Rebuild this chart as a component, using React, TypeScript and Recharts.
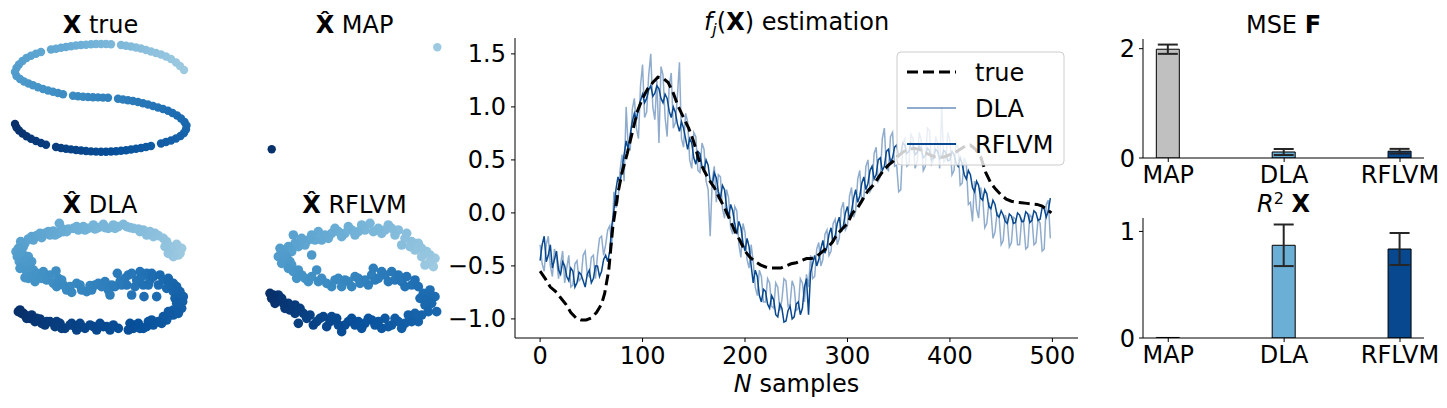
import React from "react";
import {
  LineChart,
  Line,
  XAxis,
  YAxis,
  ScatterChart,
  Scatter,
  BarChart,
  Bar,
  Cell,
  ErrorBar,
} from "recharts";

const FONT = "DejaVu Sans";
const FS = 24;

// latent positions, ordered along the curve (first = light, last = dark)
const trueLatent = [
  [18.4, 9.0], [18.0, 9.4], [17.6, 9.75], [17.1, 10.1], [16.6, 10.35], [16.1, 10.55], [15.6, 10.7], [15.1, 10.85],
  [14.6, 11.0], [14.1, 11.15], [13.6, 11.25], [13.1, 11.35], [12.6, 11.42], [12.1, 11.5], [11.1, 11.57],
  [10.6, 11.6], [10.1, 11.6], [9.6, 11.6], [9.1, 11.57], [8.6, 11.53], [8.1, 11.5], [7.6, 11.45], [7.1, 11.38],
  [6.6, 11.3], [6.1, 11.22], [5.6, 11.13], [5.1, 11.05], [4.1, 10.8], [3.6, 10.62], [3.1, 10.42],
  [2.65, 10.2], [2.25, 9.9], [1.9, 9.55], [1.65, 9.2], [1.5, 8.8], [1.65, 8.4], [2.0, 8.1], [2.4, 7.85],
  [2.85, 7.65], [3.3, 7.48], [3.8, 7.28], [4.3, 7.1], [4.8, 6.95], [5.3, 6.82], [5.8, 6.7], [6.3, 6.58],
  [7.3, 6.42], [7.8, 6.37], [8.3, 6.33], [8.8, 6.3], [9.3, 6.28], [9.8, 6.26], [10.3, 6.24], [10.8, 6.22],
  [11.8, 6.12], [12.3, 6.05], [12.8, 5.98], [13.3, 5.9], [13.8, 5.8], [14.3, 5.68], [14.8, 5.55], [15.3, 5.4],
  [15.8, 5.25], [16.3, 5.1], [16.8, 4.92], [17.25, 4.7], [17.7, 4.45], [18.1, 4.15], [18.45, 3.8], [18.65, 3.45],
  [18.6, 3.05], [18.4, 2.7], [18.05, 2.4], [17.6, 2.15], [17.1, 1.95], [16.6, 1.8], [16.1, 1.65], [15.1, 1.4],
  [14.6, 1.3], [14.1, 1.2], [13.6, 1.12], [13.1, 1.05], [12.6, 0.98], [12.1, 0.93], [11.6, 0.88], [11.1, 0.85],
  [10.6, 0.83], [10.1, 0.83], [9.6, 0.84], [9.1, 0.86], [8.6, 0.9], [8.1, 0.95], [7.6, 1.0], [7.1, 1.06],
  [6.6, 1.12], [6.1, 1.2], [5.6, 1.3], [4.6, 1.52], [4.1, 1.7], [3.6, 1.9], [3.1, 2.12], [2.65, 2.38],
  [2.25, 2.65], [1.9, 2.95], [1.65, 3.25], [1.5, 3.6],
];

const mapLatent = [
  [18.23, 11.27],
  [1.67, 1.07],
];

const dlaLatent = [
  [5.45, 2.75], [5.4, 2.6], [5.35, 2.55], [5.25, 2.7], [5.3, 2.87], [5.2, 2.5], [5.15, 2.75], [5.1, 2.8],
  [5.05, 2.6], [5.0, 2.95], [4.95, 2.8], [4.9, 3.05], [4.75, 3.13], [4.6, 3.1], [4.65, 3.2], [4.5, 3.25],
  [4.4, 3.15], [4.3, 3.3], [4.2, 3.25], [4.15, 3.33], [4.0, 3.35], [3.9, 3.37], [3.8, 3.4], [3.7, 3.47],
  [3.55, 3.4], [3.45, 3.35], [3.4, 3.45], [3.25, 3.35], [3.15, 3.37], [3.1, 3.47], [2.95, 3.37], [2.85, 3.33],
  [2.8, 3.45], [2.65, 3.35], [2.55, 3.3], [2.5, 3.4], [2.35, 3.3], [2.3, 3.4], [2.2, 3.35], [2.05, 3.33],
  [2.0, 3.25], [1.9, 3.25], [1.85, 3.35], [1.78, 3.5], [1.75, 3.2], [1.65, 3.15], [1.6, 3.27], [1.5, 3.15],
  [1.45, 3.25], [1.35, 3.2], [1.25, 3.07], [1.2, 3.2], [1.1, 3.13], [1.0, 3.0], [0.95, 3.1], [0.85, 3.03],
  [0.75, 2.9], [0.7, 2.8], [0.62, 2.95], [0.55, 2.75], [0.48, 2.65], [0.65, 2.7], [0.6, 2.55], [0.52, 2.5],
  [0.7, 2.55], [0.85, 2.5], [0.58, 2.35], [0.78, 2.4], [0.95, 2.35], [0.68, 2.2], [0.9, 2.25], [0.6, 2.15],
  [0.8, 2.05], [1.0, 2.1], [0.75, 1.87], [0.85, 1.85], [0.95, 1.9], [1.1, 2.0], [1.05, 1.75], [1.25, 1.85],
  [1.3, 2.05], [1.4, 1.8], [1.5, 1.95], [1.6, 1.7], [1.68, 2.07], [1.75, 1.85], [1.85, 1.8], [1.7, 1.6],
  [1.9, 1.65], [2.0, 1.5], [2.1, 1.6], [2.15, 1.43], [2.3, 1.7], [2.4, 1.65], [2.45, 1.5], [2.6, 1.45],
  [2.7, 1.63], [2.75, 1.5], [2.85, 1.65], [2.95, 1.7], [3.05, 1.6], [3.15, 1.75], [3.25, 1.5], [3.3, 1.35],
  [3.35, 1.65], [3.45, 1.6], [3.6, 1.75], [3.65, 1.65], [3.52, 2.0], [3.75, 1.85], [3.85, 1.95], [3.8, 1.65],
  [3.95, 2.0], [3.95, 1.35], [4.05, 1.6], [4.1, 1.8], [4.2, 2.05], [4.25, 1.9], [4.3, 1.65], [4.4, 2.0],
  [4.45, 1.65], [4.5, 1.8], [4.55, 2.0], [4.32, 1.3], [4.7, 1.3], [4.6, 1.9], [4.75, 1.65], [4.8, 1.95],
  [4.9, 1.8], [5.0, 1.55], [5.05, 1.85], [5.1, 1.7], [5.2, 1.7], [5.2, 1.45], [5.3, 1.6], [5.4, 1.45],
  [5.35, 1.3], [5.5, 1.3], [5.25, 1.25], [5.48, 1.15], [5.3, 1.1], [5.45, 0.95], [5.2, 0.9], [5.35, 0.8],
  [5.2, 0.75], [5.05, 0.85], [5.1, 0.75], [5.0, 0.6], [4.9, 0.7], [4.85, 0.5], [4.75, 0.55], [4.55, 0.6],
  [4.6, 0.45], [4.45, 0.55], [4.4, 0.4], [4.3, 0.35], [4.2, 0.35], [4.15, 0.5], [4.05, 0.45], [4.0, 0.35],
  [3.9, 0.5], [3.85, 0.3], [3.55, 0.35], [3.4, 0.45], [3.3, 0.3], [3.2, 0.4], [3.1, 0.4], [3.0, 0.5],
  [2.9, 0.3], [2.8, 0.4], [2.7, 0.45], [2.55, 0.35], [2.45, 0.4], [2.4, 0.5], [2.3, 0.3], [2.25, 0.4],
  [2.15, 0.5], [2.1, 0.45], [1.95, 0.35], [1.85, 0.35], [1.8, 0.5], [1.7, 0.55], [1.65, 0.4], [1.5, 0.55],
  [1.4, 0.55], [1.35, 0.45], [1.25, 0.5], [1.2, 0.63], [1.1, 0.65], [1.05, 0.55], [0.95, 0.75], [0.9, 0.65],
  [0.8, 0.65], [0.75, 0.75], [0.7, 0.8], [0.65, 0.8], [0.55, 0.85], [0.6, 0.9],
];

const rflvmLatent = [
  [5.35, 2.2], [5.25, 2.35], [5.4, 2.45], [5.1, 2.25], [5.25, 2.55], [5.0, 2.5], [5.15, 2.65], [5.0, 2.75],
  [4.8, 2.7], [4.9, 2.9], [4.65, 2.8], [4.7, 2.95], [4.5, 3.05], [4.55, 3.2], [4.4, 2.85], [4.3, 3.3],
  [4.2, 3.15], [4.1, 3.35], [4.0, 3.45], [3.9, 3.3], [3.8, 3.2], [3.7, 3.35], [3.55, 3.25], [3.45, 3.5],
  [3.3, 3.3], [3.2, 3.45], [3.1, 3.25], [3.0, 3.15], [2.9, 3.3], [2.8, 3.4], [2.7, 3.2], [2.6, 3.1],
  [2.5, 3.25], [2.4, 3.35], [2.3, 3.2], [2.2, 3.05], [2.1, 3.15], [2.0, 3.0], [1.9, 3.25], [1.8, 3.0],
  [1.7, 3.15], [1.6, 3.0], [1.5, 2.85], [1.4, 3.05], [1.3, 2.8], [1.2, 2.9], [1.15, 3.15], [1.1, 2.65],
  [1.0, 2.8], [0.9, 2.55], [0.85, 2.7], [0.75, 2.75], [0.7, 2.5], [0.95, 2.5], [0.8, 2.3], [1.05, 2.35],
  [1.7, 2.55], [1.1, 2.25], [1.0, 2.15], [1.15, 2.05], [1.3, 2.1], [1.25, 1.85], [1.4, 1.95], [1.5, 1.85],
  [1.6, 1.75], [1.7, 1.9], [1.85, 2.1], [1.9, 1.75], [2.0, 1.85], [2.15, 1.7], [2.3, 1.6], [2.4, 1.8],
  [2.5, 1.85], [2.6, 1.6], [2.7, 1.8], [2.8, 1.75], [2.9, 1.6], [3.0, 1.9], [3.1, 1.85], [3.15, 1.7],
  [3.3, 1.8], [3.4, 1.65], [3.5, 1.95], [3.55, 2.15], [3.6, 1.8], [3.7, 1.85], [3.8, 2.05], [3.9, 1.95],
  [4.0, 1.75], [4.1, 2.05], [4.2, 1.8], [4.3, 1.95], [4.4, 1.75], [4.55, 1.9], [4.5, 1.6], [4.7, 1.65],
  [4.8, 1.8], [4.9, 1.6], [5.25, 1.5], [5.05, 1.4], [5.2, 1.35], [5.4, 1.3], [4.95, 1.25], [5.15, 1.2],
  [5.3, 1.1], [5.1, 1.05], [5.45, 0.85], [5.2, 0.85], [5.0, 0.75], [4.8, 0.8], [4.9, 0.55], [4.6, 0.75],
  [4.7, 0.55], [4.5, 0.5], [4.4, 0.35], [4.3, 0.55], [4.2, 0.65], [4.1, 0.45], [4.0, 0.4], [3.9, 0.65],
  [3.8, 0.35], [3.7, 0.55], [3.6, 0.45], [3.5, 0.6], [3.4, 0.65], [3.3, 0.5], [3.2, 0.35], [3.1, 0.55],
  [3.0, 0.45], [2.9, 0.65], [2.8, 0.55], [2.7, 0.45], [2.6, 0.25], [2.5, 0.45], [2.45, 0.65], [2.3, 0.7],
  [2.25, 0.55], [2.15, 0.4], [2.05, 0.7], [1.95, 0.65], [1.85, 0.55], [1.75, 0.45], [1.65, 0.75], [1.55, 0.65],
  [1.45, 0.8], [1.3, 0.5], [1.35, 0.95], [1.2, 0.8], [1.2, 1.05], [1.05, 0.9], [1.0, 1.1], [0.9, 0.95],
  [0.85, 1.1], [0.8, 1.25], [0.7, 1.35], [0.65, 1.2], [0.6, 1.1], [0.55, 1.35], [0.5, 1.25], [0.45, 1.4],
];

// f_j(X) estimation: every second sample, 0, 2, 4, ... 498
const dlaValues = [
  -0.3, -0.48, -0.55, -0.3, -0.22, -0.5, -0.6, -0.34, -0.42, -0.62,
  -0.48, -0.36, -0.66, -0.52, -0.4, -0.7, -0.68, -0.48, -0.45, -0.64,
  -0.62, -0.4, -0.36, -0.58, -0.6, -0.42, -0.4, -0.62, -0.4, -0.24,
  -0.22, -0.4, -0.3, -0.16, -0.12, -0.3, 0.2, 0.05, 0.1, 0.4,
  0.55, 0.3, 1.0, 0.62, 0.6, 0.98, 1.08, 0.8, 0.7, 1.2,
  1.4, 0.9, 0.95, 1.3, 1.5, 1.0, 0.88, 1.25, 0.66, 1.38,
  1.3, 0.9, 0.72, 1.2, 1.32, 0.8, 0.85, 1.1, 1.42, 0.7,
  0.62, 0.94, 0.86, 0.5, 0.42, 0.76, 0.72, 0.4, 0.38, 0.66,
  0.6, 0.3, 0.22, -0.22, 0.3, 0.44, 0.1, 0.36, 0.34, 0.04,
  -0.05, 0.22, 0.14, -0.14, -0.2, 0.06, 0.02, -0.3, -0.42, -0.1,
  -0.18, -0.44, -0.52, -0.3, -0.46, -0.7, -0.78, -0.54, -0.6, -0.84,
  -0.84, -0.62, -0.66, -0.88, -0.9, -0.66, -0.7, -0.92, -0.82, -0.62,
  -0.64, -0.88, -0.86, -0.64, -0.7, -0.92, -0.9, -0.62, -0.66, -0.84,
  -0.58, -0.7, -0.4, -0.62, -0.6, -0.34, -0.28, -0.5, -0.44, -0.2,
  -0.16, -0.4, -0.36, -0.1, -0.06, -0.3, -0.24, 0.04, 0.1, -0.16,
  -0.12, 0.16, 0.24, -0.04, 0.02, 0.32, 0.4, 0.1, 0.14, 0.44,
  0.5, 0.2, 0.24, 0.56, 0.62, 0.3, 0.34, 0.7, 0.8, 0.42,
  0.4, 0.72, 0.76, 0.44, 0.45, 0.2, 0.22, 0.66, 0.7, 0.44,
  0.46, 0.74, 0.7, 0.42, 0.48, 0.76, 0.68, 0.4, 0.44, 0.8,
  0.78, 0.46, 0.5, 0.72, 0.66, 0.42, 1.0, 0.48, 0.5, 0.76,
  0.68, 0.36, 0.4, 0.66, 0.62, 0.26, 0.28, 0.52, 0.46, 0.08,
  0.1, -0.08, 0.3, 0.04, -0.05, 0.24, 0.14, -0.14, -0.1, 0.1,
  0.02, -0.24, -0.18, 0.0, -0.04, -0.3, -0.26, -0.02, -0.08, -0.32,
  -0.28, -0.04, -0.06, -0.3, -0.3, -0.06, -0.1, -0.34, -0.32, -0.02,
  -0.04, -0.3, -0.28, -0.06, -0.1, -0.36, -0.34, 0.08, 0.12, -0.24,
];

const rflvmValues = [
  -0.45, -0.3, -0.22, -0.46, -0.4, -0.3, -0.52, -0.44, -0.36, -0.54,
  -0.58, -0.46, -0.5, -0.6, -0.64, -0.52, -0.55, -0.7, -0.66, -0.56,
  -0.58, -0.64, -0.7, -0.58, -0.54, -0.66, -0.62, -0.5, -0.5, -0.6,
  -0.55, -0.44, -0.4, -0.46, -0.36, -0.12, 0.02, 0.22, 0.34, 0.28,
  0.42, 0.55, 0.68, 0.6, 0.74, 0.86, 0.94, 0.88, 0.99, 1.06,
  1.12, 1.04, 1.08, 1.16, 1.2, 1.1, 1.13, 1.2, 1.17, 1.08,
  1.04, 1.12, 1.08, 0.96, 0.9, 1.0, 0.95, 0.84, 0.77, 0.86,
  0.8, 0.7, 0.6, 0.7, 0.66, 0.52, 0.46, 0.58, 0.56, 0.44,
  0.4, 0.5, 0.45, 0.3, 0.26, 0.38, 0.33, 0.2, 0.14, 0.26,
  0.22, 0.06, -0.04, 0.08, 0.02, -0.1, -0.2, -0.08, -0.14, -0.28,
  -0.36, -0.24, -0.32, -0.5, -0.66, -0.54, -0.6, -0.78, -0.84, -0.72,
  -0.74, -0.86, -0.9, -0.78, -0.82, -0.96, -0.98, -0.86, -0.9, -1.03,
  -1.02, -0.92, -0.88, -1.0, -0.98, -0.86, -0.84, -0.96, -0.9, -0.7,
  -0.62, -0.96, -0.56, -0.48, -0.4, -0.5, -0.44, -0.34, -0.26, -0.38,
  -0.32, -0.2, -0.14, -0.28, -0.22, -0.1, -0.04, -0.18, -0.12, 0.0,
  0.06, -0.06, 0.02, 0.14, 0.22, 0.1, 0.16, 0.28, 0.34, 0.22,
  0.28, 0.4, 0.44, 0.32, 0.36, 0.5, 0.52, 0.4, 0.44, 0.58,
  0.6, 0.48, 0.52, 0.62, 0.64, 0.54, 0.56, 0.66, 0.64, 0.56,
  0.58, 0.66, 0.64, 0.55, 0.57, 0.63, 0.61, 0.52, 0.54, 0.61,
  0.59, 0.5, 0.52, 0.6, 0.58, 0.51, 0.53, 0.59, 0.57, 0.49,
  0.5, 0.58, 0.55, 0.47, 0.44, 0.52, 0.46, 0.36, 0.32, 0.4,
  0.36, 0.24, 0.2, 0.3, 0.26, 0.14, 0.12, 0.22, 0.18, 0.06,
  0.04, 0.12, 0.08, -0.02, -0.04, 0.02, -0.02, -0.08, -0.1, -0.01,
  -0.03, -0.1, -0.09, 0.0, -0.02, -0.08, -0.08, 0.01, -0.01, -0.09,
  -0.07, 0.02, 0.0, -0.07, -0.06, 0.05, 0.04, -0.04, 0.02, 0.14,
];

const trueSamples = [
  0, 5, 10, 15, 20, 25, 30, 35, 40, 45, 50, 55, 60, 63, 67, 71, 76, 80, 85, 90, 95, 100, 105, 110, 115, 120,
  125, 130, 135, 140, 145, 150, 155, 160, 165, 170, 175, 180, 185, 190, 195, 200, 205, 210, 215, 220, 225,
  230, 235, 240, 245, 250, 255, 260, 265, 270, 275, 280, 285, 290, 295, 300, 305, 310, 315, 320, 325, 330,
  335, 340, 345, 350, 355, 360, 365, 370, 375, 380, 385, 390, 395, 400, 405, 410, 415, 420, 425, 430, 435,
  440, 445, 450, 455, 460, 465, 470, 475, 480, 485, 490, 495, 499,
];
const trueValues = [
  -0.55, -0.62, -0.7, -0.74, -0.8, -0.86, -0.94, -0.99, -1.01, -1.01, -0.99, -0.94, -0.86, -0.76, -0.54,
  -0.13, 0.19, 0.38, 0.56, 0.76, 0.96, 1.08, 1.17, 1.23, 1.28, 1.27, 1.23, 1.13, 1.0, 0.9, 0.8, 0.67, 0.5,
  0.4, 0.31, 0.24, 0.14, 0.05, -0.06, -0.17, -0.26, -0.36, -0.42, -0.46, -0.49, -0.51, -0.52, -0.52, -0.52,
  -0.5, -0.48, -0.47, -0.45, -0.43, -0.43, -0.41, -0.37, -0.33, -0.28, -0.2, -0.15, -0.1, 0.0, 0.05, 0.13,
  0.21, 0.26, 0.33, 0.4, 0.45, 0.49, 0.54, 0.58, 0.6, 0.61, 0.6, 0.57, 0.55, 0.53, 0.52, 0.53, 0.55, 0.57,
  0.6, 0.63, 0.64, 0.6, 0.53, 0.38, 0.28, 0.22, 0.17, 0.13, 0.11, 0.1, 0.095, 0.09, 0.085, 0.08, 0.065,
  0.03, 0.0,
];

const methods = ["MAP", "DLA", "RFLVM"];
const mseMean = [1.99, 0.11, 0.125];
const mseErr = [0.085, 0.055, 0.042];
const r2Mean = [0.005, 0.87, 0.835];
const r2Err = [0, 0.195, 0.15];

const BLUES = [
  [158, 202, 225],
  [107, 174, 214],
  [66, 146, 198],
  [33, 113, 181],
  [8, 81, 156],
  [8, 48, 107],
];
function blues(t: number) {
  const s = t * (BLUES.length - 1);
  const k = Math.min(Math.floor(s), BLUES.length - 2);
  const f = s - k;
  const c = BLUES[k].map((a, j) => Math.round(a + (BLUES[k + 1][j] - a) * f));
  return `rgb(${c.join(",")})`;
}

const DARK_BLUE = "#08488e";
const barColors = ["#c0c0c0", "#6baed6", DARK_BLUE];

const tickStyle = { fill: "#000", fontSize: FS, fontFamily: FONT };
const axisStroke = { stroke: "#000", strokeWidth: 1 };

const toSeries = (vals: number[]) => vals.map((v, i) => ({ n: i * 2, v }));
const dlaData = toSeries(dlaValues);
const rflvmData = toSeries(rflvmValues);
const trueData = trueSamples.map((n, i) => ({ n, v: trueValues[i] }));

const fmt1 = (v: number) => v.toFixed(1).replace("-", "\u2212");

function LatentPanel({ points, left, top, xMax, yMax, r }: any) {
  const data = points.map(([x, y]: number[], i: number) => ({
    x,
    y,
    c: blues(i / (points.length - 1)),
  }));
  return (
    <div style={{ position: "absolute", left, top }}>
      <ScatterChart width={200} height={125} margin={{ top: 0, right: 0, bottom: 0, left: 0 }}>
        <XAxis type="number" dataKey="x" domain={[0, xMax]} hide />
        <YAxis type="number" dataKey="y" domain={[0, yMax]} hide />
        <Scatter
          data={data}
          isAnimationActive={false}
          shape={(p: any) => <circle cx={p.cx} cy={p.cy} r={r} fill={p.payload.c} />}
        />
      </ScatterChart>
    </div>
  );
}

function ScoreBars({ top, height, margin, means, errs, yMax, yTicks }: any) {
  const data = methods.map((m, i) => ({ i, m, v: means[i], e: errs[i] }));
  return (
    <div style={{ position: "absolute", left: 1083, top }}>
      <BarChart width={364} height={height} data={data} margin={margin}>
        <XAxis
          type="number"
          dataKey="i"
          domain={[-0.218, 2.207]}
          ticks={[0, 1, 2]}
          tickFormatter={(i: number) => methods[i]}
          tick={tickStyle}
          tickSize={4}
          tickMargin={4}
          height={40}
          axisLine={axisStroke}
          tickLine={axisStroke}
          allowDataOverflow
        />
        <YAxis
          type="number"
          domain={[0, yMax]}
          ticks={yTicks}
          tick={tickStyle}
          tickSize={4}
          tickMargin={4}
          width={60}
          axisLine={axisStroke}
          tickLine={axisStroke}
          allowDataOverflow
        />
        <Bar dataKey="v" barSize={23} stroke="#000" strokeWidth={1} isAnimationActive={false}>
          {data.map((d, k) => (
            <Cell key={d.m} fill={barColors[k]} />
          ))}
          <ErrorBar dataKey="e" width={10} stroke="#262626" strokeWidth={2} direction="y" />
        </Bar>
      </BarChart>
    </div>
  );
}

export default function App() {
  return (
    <div
      style={{
        position: "absolute",
        left: 0,
        top: 0,
        width: 1447,
        height: 408,
        overflow: "hidden",
        background: "#fff",
        fontFamily: FONT,
      }}
    >
      <LatentPanel points={trueLatent} left={0} top={35} xMax={20} yMax={12.5} r={4.2} />
      <LatentPanel points={mapLatent} left={255} top={35} xMax={20} yMax={12.5} r={4.2} />
      <LatentPanel points={dlaLatent} left={0} top={215} xMax={6} yMax={3.75} r={4.8} />
      <LatentPanel points={rflvmLatent} left={255} top={215} xMax={6} yMax={3.75} r={4.8} />

      <div style={{ position: "absolute", left: 440, top: 0 }}>
        <LineChart width={660} height={408} margin={{ top: 38, right: 22, bottom: 25, left: 0 }}>
          <XAxis
            type="number"
            dataKey="n"
            domain={[-24.5, 525]}
            ticks={[0, 100, 200, 300, 400, 500]}
            tick={tickStyle}
            tickSize={4}
            tickMargin={5}
            height={45}
            axisLine={axisStroke}
            tickLine={axisStroke}
            allowDataOverflow
          />
          <YAxis
            type="number"
            domain={[-1.18, 1.65]}
            ticks={[-1, -0.5, 0, 0.5, 1, 1.5]}
            tickFormatter={fmt1}
            tick={tickStyle}
            tickSize={4}
            tickMargin={5}
            width={75}
            axisLine={axisStroke}
            tickLine={axisStroke}
            allowDataOverflow
          />
          <Line
            data={dlaData}
            dataKey="v"
            stroke={DARK_BLUE}
            strokeOpacity={0.45}
            strokeWidth={1.5}
            dot={false}
            isAnimationActive={false}
          />
          <Line
            data={rflvmData}
            dataKey="v"
            stroke={DARK_BLUE}
            strokeWidth={1.5}
            dot={false}
            isAnimationActive={false}
          />
          <Line
            data={trueData}
            dataKey="v"
            stroke="#000"
            strokeWidth={3}
            strokeDasharray="11 5"
            dot={false}
            isAnimationActive={false}
          />
        </LineChart>
      </div>

      <svg width={170} height={116} style={{ position: "absolute", left: 896, top: 51 }}>
        <rect x={1} y={1} width={167} height={113} rx={4} fill="#fff" fillOpacity={0.8} stroke="#cccccc" />
        <line x1={11} x2={60} y1={21} y2={21} stroke="#000" strokeWidth={3} strokeDasharray="11 5" />
        <line x1={11} x2={60} y1={57} y2={57} stroke={DARK_BLUE} strokeOpacity={0.45} strokeWidth={2} />
        <line x1={11} x2={60} y1={93} y2={93} stroke={DARK_BLUE} strokeWidth={2} />
        <g fontFamily={FONT} fontSize={FS} fill="#000">
          <text x={79} y={29.5}>true</text>
          <text x={79} y={65.5}>DLA</text>
          <text x={79} y={101.5}>RFLVM</text>
        </g>
      </svg>

      <ScoreBars
        top={0}
        height={200}
        margin={{ top: 39, right: 23, bottom: 2, left: 0 }}
        means={mseMean}
        errs={mseErr}
        yMax={2.177}
        yTicks={[0, 2]}
      />
      <ScoreBars
        top={200}
        height={208}
        margin={{ top: 18, right: 23, bottom: 30, left: 0 }}
        means={r2Mean}
        errs={r2Err}
        yMax={1.126}
        yTicks={[0, 1]}
      />

      <svg
        width={1447}
        height={408}
        style={{ position: "absolute", left: 0, top: 0, pointerEvents: "none" }}
      >
        <g fontFamily={FONT} fontSize={FS} fill="#000" textAnchor="middle">
          <text x={100.5} y={33}>
            <tspan fontWeight="bold">X</tspan> true
          </text>
          <text x={354.5} y={33}>
            <tspan fontWeight="bold">{"X\u0302"}</tspan> MAP
          </text>
          <text x={100} y={213}>
            <tspan fontWeight="bold">{"X\u0302"}</tspan> DLA
          </text>
          <text x={354.5} y={213}>
            <tspan fontWeight="bold">{"X\u0302"}</tspan> RFLVM
          </text>
          <text x={796.5} y={30}>
            <tspan fontStyle="italic">f</tspan>
            <tspan fontStyle="italic" fontSize={16} dy={5}>j</tspan>
            <tspan dy={-5}>(</tspan>
            <tspan fontWeight="bold">X</tspan>
            <tspan>) estimation</tspan>
          </text>
          <text x={796.5} y={392}>
            <tspan fontStyle="italic">N</tspan> samples
          </text>
          <text x={1283.5} y={33}>
            MSE <tspan fontWeight="bold">F</tspan>
          </text>
          <text x={1283.5} y={212}>
            <tspan fontStyle="italic">R</tspan>
            <tspan fontSize={16} dy={-8}>2</tspan>
            <tspan dy={8}> </tspan>
            <tspan fontWeight="bold">X</tspan>
          </text>
        </g>
      </svg>
    </div>
  );
}
